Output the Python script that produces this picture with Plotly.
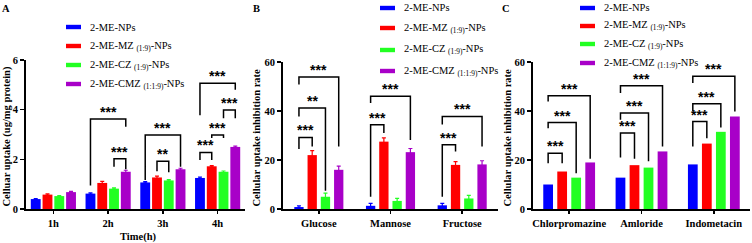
import plotly.graph_objects as go

# ---------------- data ----------------
series_names = ["2-ME-NPs", "2-ME-MZ <sub>(1:9)</sub>-NPs",
                "2-ME-CZ <sub>(1:9)</sub>-NPs", "2-ME-CMZ <sub>(1:1:9)</sub>-NPs"]
colors = ["#0000FF", "#FF0000", "#22FF22", "#A800C8"]

cats_A = ["1h", "2h", "3h", "4h"]
A_blue = [0.40, 0.62, 1.07, 1.25]
A_red = [0.58, 1.05, 1.27, 1.72]
A_green = [0.52, 0.82, 1.15, 1.50]
A_mag = [0.68, 1.50, 1.60, 2.50]
A_err_blue = [0.02, 0.03, 0.03, 0.03]
A_err_red = [0.03, 0.06, 0.05, 0.03]
A_err_green = [0.02, 0.03, 0.03, 0.03]
A_err_mag = [0.03, 0.06, 0.04, 0.03]

cats_B = ["Glucose", "Mannose", "Fructose"]
B_blue = [0.8, 1.3, 1.5]
B_red = [22.0, 27.5, 18.0]
B_green = [5.0, 3.3, 4.3]
B_mag = [16.0, 23.2, 18.2]
B_err_blue = [0.5, 1.0, 0.8]
B_err_red = [1.8, 1.5, 1.3]
B_err_green = [1.5, 1.0, 1.3]
B_err_mag = [1.5, 1.5, 1.5]

cats_C = ["Chlorpromazine", "Amloride", "Indometacin"]
C_blue = [10.0, 12.8, 18.2]
C_red = [15.3, 17.9, 26.7]
C_green = [12.8, 16.9, 31.5]
C_mag = [19.0, 23.5, 37.8]

# significance brackets: (category index, bar i, bar j, top, left bottom, right bottom, label)
brackets_A = [
    (1, 0, 3, 3.62, 0.95, 3.31, "***"),
    (1, 2, 3, 2.02, 1.70, 1.60, "***"),
    (2, 0, 3, 2.98, 1.17, 1.70, "***"),
    (2, 1, 2, 1.92, 1.52, 1.48, "**"),
    (3, 0, 3, 5.06, 3.78, 4.80, "***"),
    (3, 2, 3, 3.99, 3.65, 3.65, "***"),
    (3, 1, 2, 2.98, 2.86, 2.86, "***"),
    (3, 0, 1, 2.28, 1.97, 1.97, "***"),
]
brackets_B = [
    (0, 0, 1, 29.2, 24.5, 25.5, "***"),
    (0, 0, 2, 41.2, 37.8, 7.5, "**"),
    (0, 0, 3, 53.9, 50.8, 25.5, "***"),
    (1, 0, 1, 34.4, 5.0, 31.0, "***"),
    (1, 0, 3, 46.0, 43.3, 28.2, "***"),
    (2, 0, 1, 26.2, 5.0, 23.5, "***"),
    (2, 0, 3, 37.8, 34.5, 25.5, "***"),
]
brackets_C = [
    (0, 0, 1, 22.8, 18.7, 18.7, "***"),
    (0, 0, 2, 35.3, 33.0, 14.6, "***"),
    (0, 0, 3, 46.2, 43.9, 20.5, "***"),
    (1, 0, 1, 31.0, 21.0, 20.5, "***"),
    (1, 0, 2, 39.2, 36.4, 19.5, "***"),
    (1, 0, 3, 50.3, 47.3, 25.5, "***"),
    (2, 0, 1, 35.7, 25.5, 28.9, "***"),
    (2, 0, 2, 43.0, 39.8, 33.3, "***"),
    (2, 0, 3, 54.2, 51.4, 39.8, "***"),
]

W, H = 752, 243
FONT = "Times New Roman, Liberation Serif, serif"


def px_x(p):
    return p / W


def px_y(p):
    return 1 - p / H


# panel geometry (pixels)
panels = [
    dict(key="", cats=cats_A, vals=[A_blue, A_red, A_green, A_mag],
         errs=[A_err_blue, A_err_red, A_err_green, A_err_mag],
         x0=26, x1=245, ytop=60, rng=[0, 6], dtick=2, group=0.86, barw=0.18,
         brackets=brackets_A, ytitle="Celluar uptake (ug/mg protein)", ytx=6,
         xtitle="Time(h)", letter="A", lx=6, leg_sw=66, leg_rows=[27, 46, 65, 84]),
    dict(key="2", cats=cats_B, vals=[B_blue, B_red, B_green, B_mag],
         errs=[B_err_blue, B_err_red, B_err_green, B_err_mag],
         x0=283, x1=498, ytop=62, rng=[0, 60], dtick=20, group=0.74, barw=0.13,
         brackets=brackets_B, ytitle="Cellular uptake inhibition rate", ytx=256,
         xtitle=None, letter="B", lx=256, leg_sw=380, leg_rows=[8, 28, 50, 71]),
    dict(key="3", cats=cats_C, vals=[C_blue, C_red, C_green, C_mag],
         errs=None,
         x0=533, x1=750, ytop=62, rng=[0, 60], dtick=20, group=0.775, barw=0.135,
         brackets=brackets_C, ytitle="Cellular uptake inhibition rate", ytx=507,
         xtitle=None, letter="C", lx=506, leg_sw=580, leg_rows=[8, 26, 44, 63]),
]

fig = go.Figure()
shapes = []
annotations = []
ybottom = 209

for p in panels:
    xa = "x" + p["key"]
    ya = "y" + p["key"]
    slot = p["group"] / 4
    gs = -p["group"] / 2
    for k in range(4):
        off = gs + k * slot + (slot - p["barw"]) / 2
        kw = {}
        if p["errs"] is not None:
            kw["error_y"] = dict(type="data", array=p["errs"][k], color=colors[k],
                                 thickness=1.2, width=2)
        fig.add_trace(go.Bar(
            x=p["cats"], y=p["vals"][k], width=p["barw"], offset=off,
            marker=dict(color=colors[k], line=dict(width=0)),
            name=series_names[k], showlegend=False, xaxis=xa, yaxis=ya, **kw))

    def bx(ci, k, gs=gs, slot=slot):
        return ci + gs + (k + 0.5) * slot

    for (ci, i, j, top, lb, rb, lab) in p["brackets"]:
        xi, xj = bx(ci, i), bx(ci, j)
        shapes.append(dict(type="path", xref=xa, yref=ya,
                           path=f"M {xi},{lb} L {xi},{top} L {xj},{top} L {xj},{rb}",
                           line=dict(color="black", width=1.5)))
        annotations.append(dict(x=(xi + xj) / 2, y=top, xref=xa, yref=ya,
                                text=lab, showarrow=False, xanchor="center",
                                yanchor="bottom",
                                yshift=-3, font=dict(family="Liberation Sans, Arial", size=14,
                                                     color="black", weight="bold")))

    dom_x = [px_x(p["x0"]), px_x(p["x1"])]
    dom_y = [px_y(ybottom), px_y(p["ytop"])]
    axkey = "xaxis" + p["key"]
    aykey = "yaxis" + p["key"]
    fig.update_layout(**{
        axkey: dict(domain=dom_x, anchor=ya, type="category", categoryorder="array",
                    categoryarray=p["cats"], range=[-0.5, len(p["cats"]) - 0.5],
                    showline=True, linewidth=2, linecolor="black", ticks="outside",
                    ticklen=3, tickwidth=1.5, tickcolor="black", showgrid=False,
                    automargin=False,
                    tickfont=dict(family=FONT, size=10.5, color="black", weight="bold")),
        aykey: dict(domain=dom_y, anchor=xa, range=p["rng"], dtick=p["dtick"],
                    showline=True, linewidth=2, linecolor="black", ticks="outside",
                    ticklen=4, tickwidth=1.5, tickcolor="black", showgrid=False,
                    zeroline=False, automargin=False,
                    tickfont=dict(family=FONT, size=10.5, color="black", weight="bold")),
    })

    # y title
    annotations.append(dict(x=px_x(p["ytx"]), y=px_y((p["ytop"] + ybottom) / 2 + 2),
                            xref="paper", yref="paper", text=p["ytitle"], textangle=-90,
                            showarrow=False, xanchor="center", yanchor="middle",
                            font=dict(family=FONT, size=10.5, color="black", weight="bold")))
    if p["xtitle"]:
        annotations.append(dict(x=px_x((p["x0"] + p["x1"]) / 2 + 2), y=px_y(237),
                                xref="paper", yref="paper", text=p["xtitle"],
                                showarrow=False, xanchor="center", yanchor="middle",
                                font=dict(family=FONT, size=10.5, color="black", weight="bold")))
    annotations.append(dict(x=px_x(p["lx"]), y=px_y(9), xref="paper", yref="paper",
                            text=p["letter"], showarrow=False, xanchor="center",
                            yanchor="middle",
                            font=dict(family=FONT, size=10.5, color="black", weight="bold")))
    # manual legend
    for k in range(4):
        yc = p["leg_rows"][k]
        shapes.append(dict(type="rect", xref="paper", yref="paper",
                           x0=px_x(p["leg_sw"]), x1=px_x(p["leg_sw"] + 15),
                           y0=px_y(yc + 2.2), y1=px_y(yc - 2.2),
                           fillcolor=colors[k], line=dict(width=0)))
        annotations.append(dict(x=px_x(p["leg_sw"] + 22), y=px_y(yc), xref="paper",
                                yref="paper", text=series_names[k], showarrow=False,
                                xanchor="left", yanchor="middle",
                                font=dict(family=FONT, size=10.5, color="black")))

fig.update_layout(width=W, height=H, margin=dict(l=0, r=0, t=0, b=0, autoexpand=False),
                  paper_bgcolor="white", plot_bgcolor="white", barmode="overlay",
                  showlegend=False, shapes=shapes, annotations=annotations,
                  hovermode=False,
                  font=dict(family=FONT, color="black"))

fig.write_html("out.html", config={"displayModeBar": False, "staticPlot": True},
               post_script="document.body.style.margin='0';document.body.style.overflow='hidden';")
